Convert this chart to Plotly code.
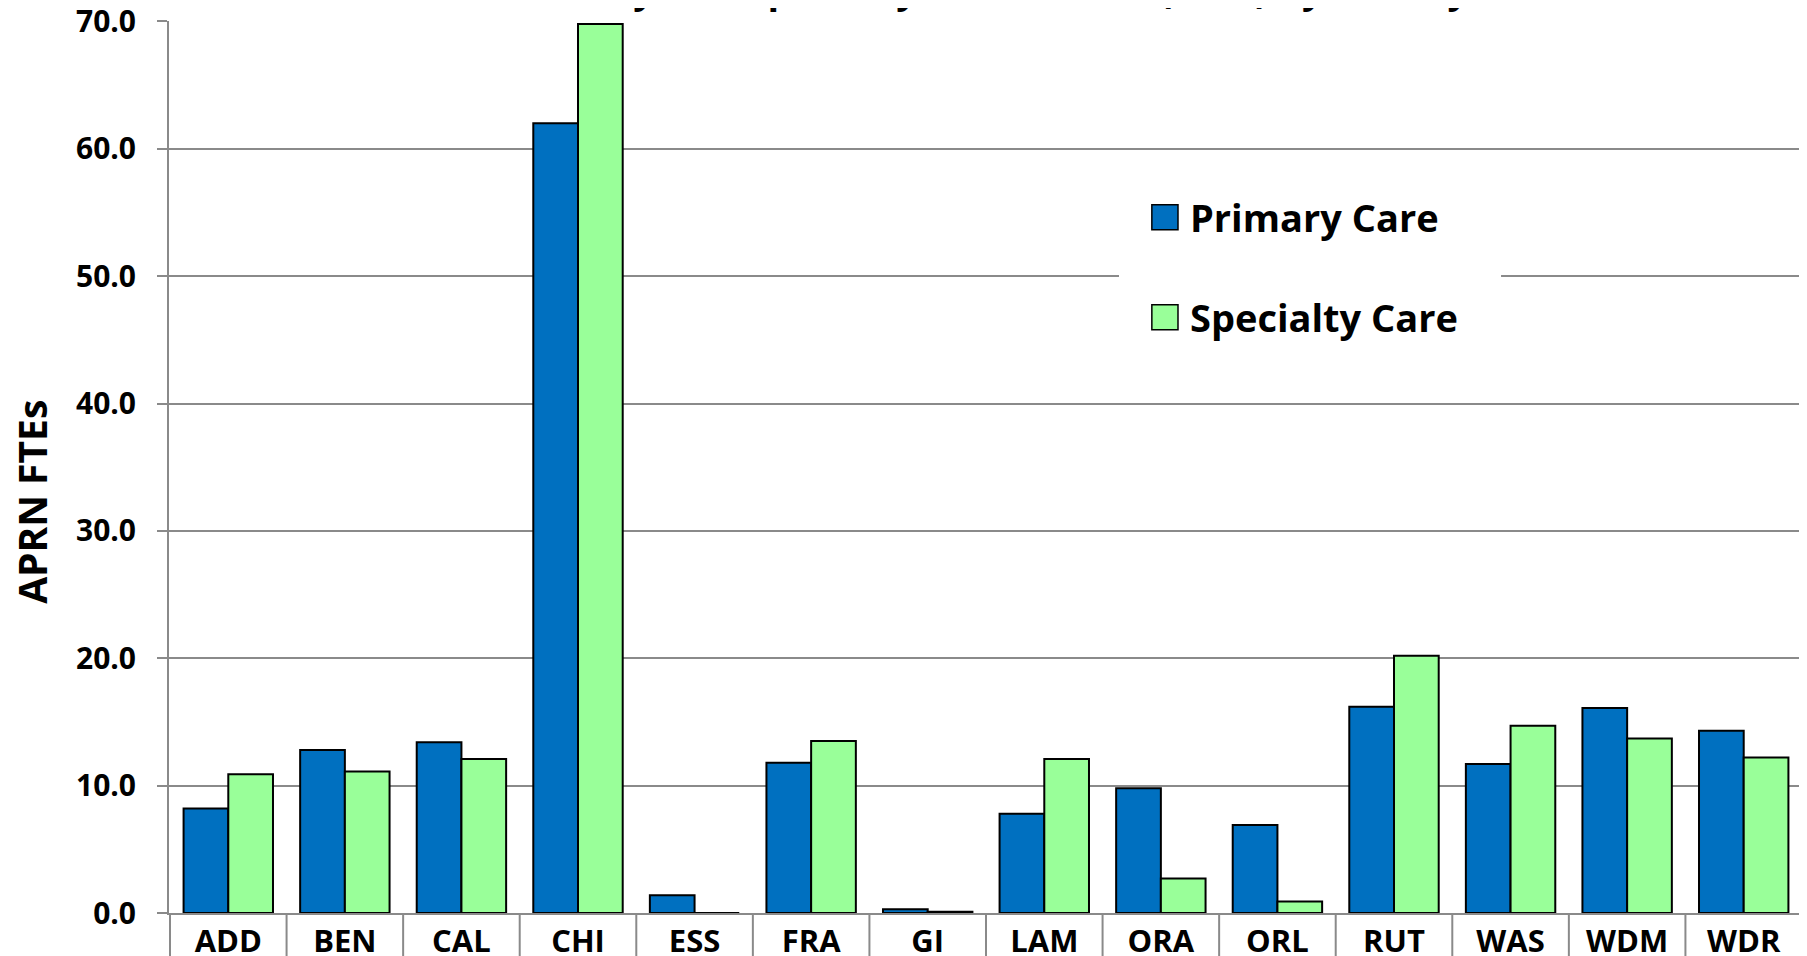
import plotly.graph_objects as go

counties = ["ADD", "BEN", "CAL", "CHI", "ESS", "FRA", "GI", "LAM", "ORA", "ORL", "RUT", "WAS", "WDM", "WDR"]
primary_care = [8.2, 12.8, 13.4, 62.0, 1.4, 11.8, 0.3, 7.8, 9.8, 6.9, 16.2, 11.7, 16.1, 14.3]
specialty_care = [10.9, 11.1, 12.1, 69.8, 0.0, 13.5, 0.1, 12.1, 2.7, 0.9, 20.2, 14.7, 13.7, 12.2]
series_names = ["Primary Care", "Specialty Care"]
series_colors = ["#0070C0", "#99FF99"]
y_ticks = [0, 10, 20, 30, 40, 50, 60, 70]
title_text = "Primary and Specialty Care APRNs (FTEs) by County"
y_title = "APRN FTEs"

FONT = "Open Sans"
GRID = "#8a8a8a"

fig = go.Figure()
for name, vals, col in zip(series_names, [primary_care, specialty_care], series_colors):
    fig.add_trace(go.Bar(
        name=name, x=counties, y=vals,
        marker=dict(color=col, line=dict(color="black", width=2)),
        showlegend=False,
    ))

shapes = []
# category separators below the axis
for i in range(len(counties) + 1):
    shapes.append(dict(type="line", xref="x", yref="paper",
                       x0=i - 0.5, x1=i - 0.5, y0=0, y1=-0.08,
                       line=dict(color=GRID, width=2), layer="below"))
# legend background (hides gridline)
shapes.append(dict(type="rect", xref="paper", yref="paper",
                   x0=0.5814, x1=0.8152, y0=0.62, y1=0.85,
                   fillcolor="white", line=dict(width=0), layer="above"))
annotations = []
legend_rows = [0.780, 0.668]
for name, col, yy in zip(series_names, series_colors, legend_rows):
    shapes.append(dict(type="rect", xref="paper", yref="paper",
                       x0=0.6015, x1=0.6175, y0=yy - 0.014, y1=yy + 0.014,
                       fillcolor=col, line=dict(color="black", width=1.5), layer="above"))
    annotations.append(dict(text=name, xref="paper", yref="paper",
                            x=0.6235, y=yy, xanchor="left", yanchor="middle",
                            showarrow=False,
                            font=dict(family=FONT, size=38, color="black", weight="bold")))

annotations.append(dict(text=y_title, xref="paper", yref="paper",
                        x=-0.0838, y=0.461, xanchor="center", yanchor="middle", textangle=-90,
                        showarrow=False,
                        font=dict(family=FONT, size=39, color="black", weight="bold")))
annotations.append(dict(text=title_text, xref="paper", yref="paper",
                        x=0.5, y=1, xanchor="center", yanchor="bottom", yshift=5,
                        showarrow=False,
                        font=dict(family=FONT, size=38, color="black", weight="bold")))

fig.update_layout(
    width=1807, height=956,
    margin=dict(l=161, r=12, t=13, b=51, autoexpand=False),
    paper_bgcolor="white", plot_bgcolor="white",
    barmode="group", bargap=0.233, bargroupgap=0,
    showlegend=False,
    font=dict(family=FONT, color="black"),
    shapes=shapes, annotations=annotations,
)
fig.update_xaxes(
    type="category", showline=True, linecolor=GRID, linewidth=2,
    ticks="", showgrid=False, automargin=False, ticklabeloverflow="allow",
    tickfont=dict(family=FONT, size=31, color="black", weight="bold"),
)
fig.update_yaxes(
    range=[0, 70.03], tickvals=y_ticks, tickformat=".1f",
    showgrid=True, gridcolor=GRID, gridwidth=2, zeroline=False,
    showline=True, linecolor=GRID, linewidth=2, automargin=False,
    ticks="outside", ticklen=10, tickcolor=GRID, tickwidth=2,
    ticklabelstandoff=15, ticklabeloverflow="allow",
    tickfont=dict(family=FONT, size=30, color="black", weight="bold"),
)
fig.write_html("out.html")
